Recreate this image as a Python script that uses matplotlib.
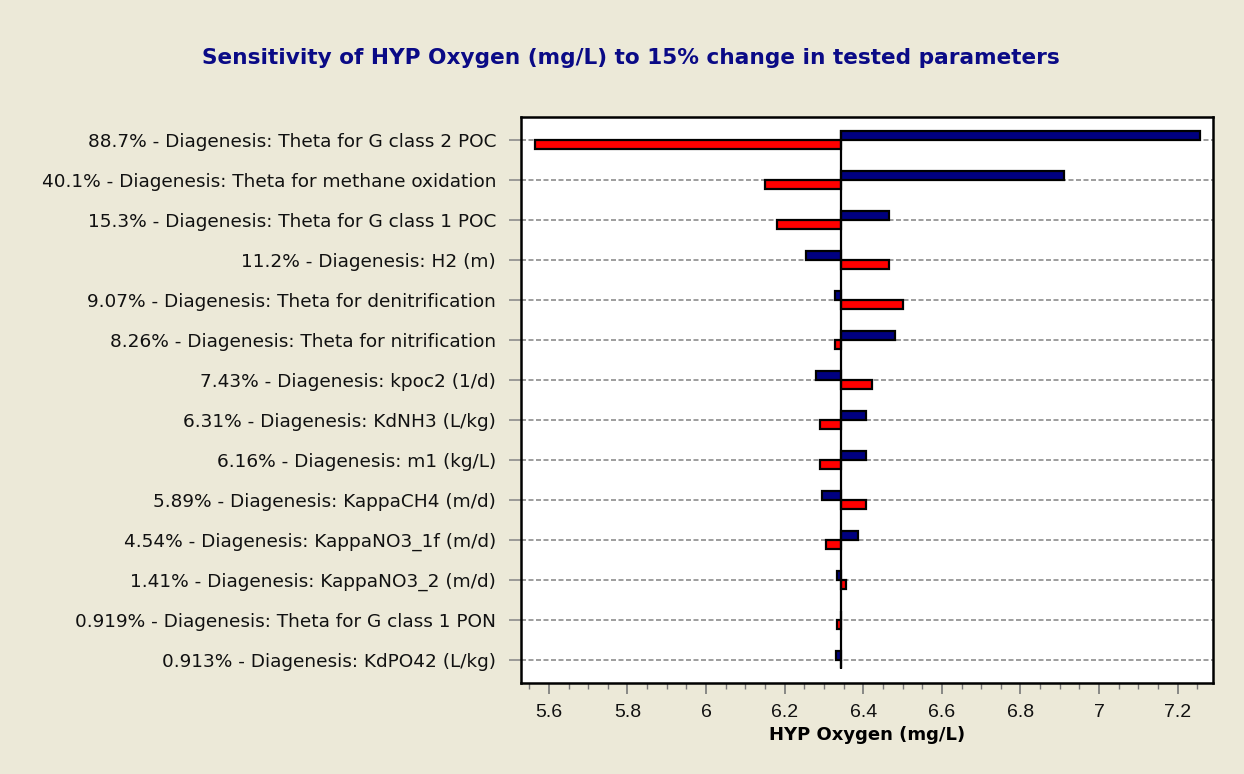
import matplotlib
matplotlib.use("Agg")
import matplotlib.pyplot as plt
from matplotlib.ticker import MultipleLocator, FuncFormatter
import numpy as np

labels = [
    "88.7% - Diagenesis: Theta for G class 2 POC",
    "40.1% - Diagenesis: Theta for methane oxidation",
    "15.3% - Diagenesis: Theta for G class 1 POC",
    "11.2% - Diagenesis: H2 (m)",
    "9.07% - Diagenesis: Theta for denitrification",
    "8.26% - Diagenesis: Theta for nitrification",
    "7.43% - Diagenesis: kpoc2 (1/d)",
    "6.31% - Diagenesis: KdNH3 (L/kg)",
    "6.16% - Diagenesis: m1 (kg/L)",
    "5.89% - Diagenesis: KappaCH4 (m/d)",
    "4.54% - Diagenesis: KappaNO3_1f (m/d)",
    "1.41% - Diagenesis: KappaNO3_2 (m/d)",
    "0.919% - Diagenesis: Theta for G class 1 PON",
    "0.913% - Diagenesis: KdPO42 (L/kg)",
]
baseline = 6.344
# value of HYP Oxygen for +15% (blue) and -15% (red)
blue_vals = [7.257, 6.911, 6.466, 6.254, 6.328, 6.482, 6.280, 6.407, 6.407, 6.295, 6.387, 6.333, 6.344, 6.330]
red_vals = [5.565, 6.150, 6.181, 6.466, 6.501, 6.328, 6.422, 6.290, 6.290, 6.407, 6.305, 6.356, 6.333, 6.344]

bg = "#ECE9D8"
fig = plt.figure(figsize=(12.44, 7.74), dpi=100, facecolor=bg)
ax = fig.add_axes([521/1244, 1-683/774, (1213-521)/1244, (683-117)/774])
ax.set_facecolor("white")

rows = np.arange(len(labels))
h = 0.225
blue_vals = np.array(blue_vals); red_vals = np.array(red_vals)

for y in rows:
    ax.axhline(y, color="#8c8c8c", lw=1.2, ls=(0, (3, 1.5)), zorder=1)

ax.barh(rows - h/2, blue_vals - baseline, left=baseline, height=h,
        color="#000080", edgecolor="black", linewidth=1.6, zorder=3)
ax.barh(rows + h/2, red_vals - baseline, left=baseline, height=h,
        color="#FF0000", edgecolor="black", linewidth=1.6, zorder=3)
ax.vlines(baseline, -0.25, 13.2, color="black", lw=1.6, zorder=4)

ax.set_xlim(5.529, 7.29)
ax.set_ylim(13.575, -0.575)
ax.set_yticks(rows)
ax.set_yticklabels(labels, fontsize=13.3, family="DejaVu Sans", color="#111111")
ax.xaxis.set_major_locator(MultipleLocator(0.2))
ax.xaxis.set_minor_locator(MultipleLocator(0.05))
ax.xaxis.set_major_formatter(FuncFormatter(lambda v, p: f"{v:g}"))
ax.xaxis.set_minor_formatter(FuncFormatter(lambda v, p: ""))
for t in ax.get_xticklabels():
    t.set_fontsize(14); t.set_family("Liberation Sans"); t.set_color("#111111")
ax.tick_params(axis="x", which="major", length=8, width=1.2, color="#777777", pad=7)
ax.tick_params(axis="x", which="minor", length=4, width=1.0, color="#777777")
ax.tick_params(axis="y", length=9, width=1.2, color="#8c8c8c", pad=9)
for s in ax.spines.values():
    s.set_linewidth(1.8); s.set_color("black")

ax.set_xlabel("HYP Oxygen (mg/L)", fontsize=13, fontweight="bold", family="DejaVu Sans", labelpad=4)
fig.text(631/1244, 1-58/774, "Sensitivity of HYP Oxygen (mg/L) to 15% change in tested parameters",
         ha="center", va="center", fontsize=15.6, fontweight="bold", color="#0a0a86", family="DejaVu Sans")

fig.savefig("out.png", dpi=100, facecolor=bg)
